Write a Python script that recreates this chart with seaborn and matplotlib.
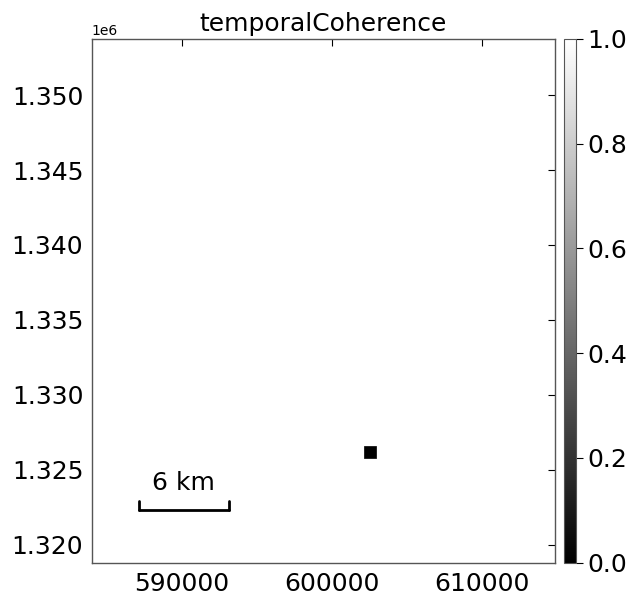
import numpy as np
import pandas as pd
import seaborn as sns
import matplotlib
matplotlib.use('Agg')
import matplotlib.pyplot as plt

# map extent in metres (UTM)
x_extent = [584000, 614900]
y_extent = [1318820, 1353730]

# temporal coherence is 1.0 over the whole area
coherence = np.full((35, 31), 1.0)

# reference point
ref_x = [602590]
ref_y = [1326180]

# scale bar
bar_start = 587150
bar_length_km = 6
bar_y = 1322330

x_ticks = [590000, 600000, 610000]
cbar_ticks = [0.0, 0.2, 0.4, 0.6, 0.8, 1.0]

sns.set_style('white')
plt.rcParams['font.family'] = ['DejaVu Sans']
plt.rcParams['text.color'] = 'black'
plt.rcParams['xtick.color'] = 'black'
plt.rcParams['ytick.color'] = 'black'

fig = plt.figure(figsize=(6.29, 5.96), dpi=100)
ax = fig.add_axes([0.1458, 0.0559, 0.7366, 0.8787])
cax = fig.add_axes([0.897, 0.0559, 0.0186, 0.8787])

im = ax.imshow(coherence, cmap='gray', vmin=0, vmax=1, origin='upper',
               extent=[x_extent[0], x_extent[1], y_extent[0], y_extent[1]],
               interpolation='nearest', aspect='equal')

ref = pd.DataFrame({'x': ref_x, 'y': ref_y})
sns.scatterplot(data=ref, x='x', y='y', ax=ax, marker='s', s=75,
                color='black', edgecolor='black', linewidth=0.5, legend=False)

# scale bar
bar_end = bar_start + bar_length_km * 1000
tick_h = 600
ax.plot([bar_start, bar_end], [bar_y, bar_y], color='black', lw=2)
ax.plot([bar_start, bar_start], [bar_y, bar_y + tick_h], color='black', lw=2)
ax.plot([bar_end, bar_end], [bar_y, bar_y + tick_h], color='black', lw=2)
ax.text((bar_start + bar_end) / 2, bar_y + 1000, f'{bar_length_km} km',
        ha='center', va='bottom', fontsize=18)

ax.set_xlim(x_extent)
ax.set_ylim(y_extent)
ax.set_xticks(x_ticks)
ax.set_xlabel('')
ax.set_ylabel('')
ax.tick_params(direction='in', top=True, right=True, labelsize=18,
               length=5, width=0.8, color='black', labelcolor='black')
ax.tick_params(axis='x', pad=7)
ax.tick_params(axis='y', pad=6)
ax.yaxis.get_offset_text().set_fontsize(10)
ax.yaxis.get_offset_text().set_color('black')
for s in ax.spines.values():
    s.set_edgecolor('#555555')
    s.set_linewidth(1.0)
ax.set_title('temporalCoherence', fontsize=18, pad=6, color='black')

cbar = fig.colorbar(im, cax=cax, ticks=cbar_ticks)
cbar.ax.tick_params(labelsize=18, length=5, width=0.8, color='black',
                    labelcolor='black')
cbar.ax.yaxis.set_major_formatter(matplotlib.ticker.FormatStrFormatter('%.1f'))
cbar.outline.set_edgecolor('#555555')

fig.savefig('out.png', dpi=100)
